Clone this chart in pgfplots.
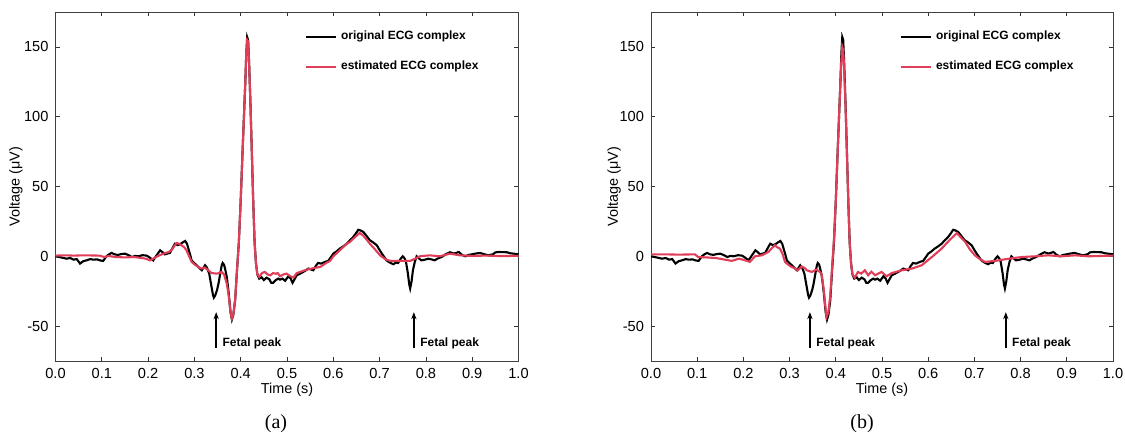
\documentclass[border=0pt]{standalone}
\usepackage{fontspec}
\setmainfont{Liberation Sans}
\newfontfamily\capfont{Liberation Serif}
\usepackage{pgfplots}
\usepackage{pgfplotstable}
\usetikzlibrary{arrows.meta}
\pgfplotsset{compat=1.18}
\definecolor{ecgred}{RGB}{224,62,88}

\pgfplotstableread{
t v
0.000 0
0.012 -0.8
0.024 -1.7
0.032 -1.2
0.039 -2.4
0.046 -2.0
0.053 -5.2
0.060 -3.5
0.067 -2.9
0.075 -2.0
0.082 -2.4
0.090 -2.2
0.097 -3.0
0.103 -3.3
0.110 0.0
0.116 1.5
0.121 2.4
0.128 1.4
0.135 1.0
0.142 1.6
0.150 1.9
0.158 0.8
0.165 -0.5
0.172 0.3
0.179 0.0
0.188 0.8
0.197 0.5
0.204 -1.0
0.211 -2.9
0.218 0.5
0.226 4.3
0.231 3.0
0.236 1.4
0.242 2.0
0.247 2.4
0.252 5.5
0.258 9.0
0.264 8.0
0.269 8.6
0.275 10.0
0.280 11.0
0.284 9.0
0.287 5.5
0.291 1.0
0.294 -2.9
0.300 -5.0
0.305 -6.4
0.311 -8.5
0.316 -10.0
0.320 -8.0
0.323 -6.4
0.327 -8.0
0.332 -12.4
0.336 -20.0
0.340 -27.5
0.342 -29.6
0.345 -28.0
0.349 -24.0
0.352 -19.6
0.356 -12.0
0.359 -6.5
0.361 -4.8
0.364 -6.0
0.367 -10.0
0.370 -14.8
0.374 -26.0
0.378 -40.0
0.381 -45.3
0.384 -42.0
0.388 -31.5
0.392 -10.0
0.396 10
0.400 40
0.404 75
0.407 100
0.410 125
0.412 145
0.414 157
0.416 155
0.418 140
0.421 110
0.424 75
0.427 40
0.430 10
0.433 -5
0.436 -13
0.440 -16
0.445 -15
0.450 -17
0.456 -15.3
0.462 -16.5
0.466 -19
0.470 -19
0.476 -17
0.481 -16
0.485 -16.7
0.490 -16
0.496 -17.5
0.503 -14.3
0.508 -16
0.512 -19
0.517 -16
0.521 -13.6
0.528 -12.5
0.535 -11.2
0.541 -10
0.546 -8.8
0.552 -9.5
0.557 -10
0.562 -7
0.567 -4.8
0.574 -5.2
0.582 -4
0.589 -3.3
0.594 -1
0.600 1.9
0.607 3.5
0.614 5.5
0.621 7
0.629 9
0.636 11.5
0.643 13.8
0.648 16
0.654 19
0.659 18.5
0.665 17.4
0.672 14.5
0.679 11.5
0.686 10
0.694 7.9
0.700 4.5
0.705 1.9
0.710 -0.5
0.715 -2.9
0.722 -4.5
0.730 -5.7
0.735 -4.5
0.740 -4.8
0.745 -2
0.750 0
0.754 -1.5
0.757 -4
0.761 -12
0.764 -20
0.766 -23
0.769 -18
0.772 -10
0.776 -4
0.780 0
0.785 -1.5
0.790 -2.9
0.797 -2.5
0.805 -1.7
0.812 -2.2
0.819 -2.9
0.826 -1.5
0.834 -0.5
0.843 1.5
0.852 2.9
0.860 2.0
0.866 2.5
0.871 3.1
0.878 1.0
0.885 0.0
0.892 1.0
0.899 1.4
0.908 2.0
0.917 2.4
0.926 1.5
0.935 0.7
0.945 1.5
0.950 2.8
0.957 3.1
0.966 3.0
0.975 2.9
0.982 2.2
0.989 1.9
0.995 1.7
1.000 1.4
}\blackdata

\pgfplotstableread{
t v
0.000 0.5
0.020 0.7
0.040 0.5
0.060 0.7
0.080 0.6
0.095 0.5
0.105 -0.5
0.115 0.2
0.130 -0.5
0.150 -0.8
0.170 -0.5
0.185 -1.2
0.195 -1.7
0.204 -2.9
0.212 -1.5
0.220 0.0
0.233 1.9
0.245 3.1
0.252 5.0
0.258 8.0
0.262 9.5
0.267 9.0
0.272 7.9
0.278 6.5
0.283 4.3
0.288 0.5
0.294 -4.0
0.301 -6.0
0.308 -7.6
0.315 -8.8
0.322 -8.0
0.328 -9.5
0.337 -12
0.343 -12.2
0.348 -12.4
0.354 -12
0.359 -11.2
0.364 -13
0.370 -19.6
0.374 -28
0.378 -40
0.381 -44.6
0.384 -42
0.388 -31
0.392 -10
0.396 10
0.400 40
0.404 75
0.407 100
0.410 125
0.412 145
0.414 155
0.416 154
0.418 140
0.421 110
0.424 75
0.427 40
0.430 10
0.433 -5
0.436 -13
0.440 -14.8
0.446 -12
0.452 -11.2
0.458 -13
0.464 -13.6
0.470 -12
0.476 -12.5
0.480 -12
0.485 -14.3
0.492 -13
0.499 -12.4
0.506 -14
0.514 -15.3
0.521 -12
0.530 -11
0.543 -9.5
0.557 -8.5
0.572 -7.6
0.586 -4.5
0.593 -3.3
0.600 0
0.614 4.3
0.629 9
0.636 10.3
0.646 13.5
0.657 16.7
0.664 15
0.672 12
0.679 9
0.690 5
0.701 0.7
0.712 -2
0.723 -3.3
0.745 -3.3
0.766 -3.3
0.778 -1.5
0.787 0
0.808 0.7
0.830 0
0.852 1.9
0.873 0.7
0.900 0.3
0.930 0.5
0.960 0.2
1.000 0.3
}\redadata

\pgfplotstableread{
t v
0.000 1.4
0.030 1.4
0.060 1.2
0.095 1.4
0.102 -0.5
0.120 -0.8
0.140 -1.2
0.160 -2.4
0.175 -3.3
0.190 -1.7
0.200 -2.5
0.214 -4.0
0.225 0
0.240 0.7
0.254 3.1
0.262 6
0.268 7.9
0.273 6.5
0.279 5.5
0.285 1.5
0.290 -4
0.297 -6
0.304 -7.6
0.311 -8.5
0.318 -10
0.326 -7.2
0.333 -8.5
0.337 -10
0.348 -11.2
0.358 -9.5
0.365 -11
0.369 -12.4
0.374 -24
0.378 -38
0.380 -43.4
0.384 -40
0.388 -28
0.392 -8
0.396 12
0.400 40
0.404 75
0.407 100
0.410 125
0.412 140
0.414 150
0.416 148
0.418 135
0.421 108
0.424 75
0.427 40
0.430 10
0.433 -5
0.436 -13
0.441 -15.3
0.448 -11.2
0.455 -12.4
0.463 -10
0.470 -13.6
0.477 -11
0.485 -13.6
0.499 -11.2
0.510 -14.3
0.521 -12
0.543 -10
0.565 -8.8
0.586 -6.4
0.608 -0.5
0.629 5.5
0.646 11.5
0.662 16.7
0.672 13
0.680 10.3
0.690 5
0.701 0.7
0.712 -2
0.723 -4
0.745 -3.3
0.774 -1.7
0.803 -0.5
0.832 0
0.860 0.7
0.889 0
0.918 0.7
0.947 0
1.000 0.5
}\redbdata

\pgfplotsset{
  ecgaxis/.style={
    anchor=south west,
    width=231.5pt, height=174.5pt, scale only axis,
    xmin=0, xmax=1, ymin=-75, ymax=175,
    xtick={0,0.1,0.2,0.3,0.4,0.5,0.6,0.7,0.8,0.9,1},
    ytick={-50,0,50,100,150},
    xticklabel style={/pgf/number format/.cd,fixed,fixed zerofill,precision=1},
    /pgf/number format/assume math mode=true,
    tick align=inside, major tick length=2.2pt,
    tick style={black!80, line width=0.4pt},
    axis line style={black!75, line width=0.5pt},
    tick label style={font=\fontsize{7.3}{8}\selectfont},
    label style={font=\fontsize{7.2}{8}\selectfont},
    xlabel={Time (s)},
    ylabel={Voltage (μV)},
    xlabel style={at={(axis description cs:0.5,0)}, anchor=center, yshift=-14.5pt},
    legend cell align=left,
    legend image code/.code={\draw[#1] (0pt,0pt) -- (15pt,0pt);},
    legend style={at={(axis cs:0.538,146.5)}, anchor=west, draw=none, fill=none,
      font=\fontsize{6}{7}\selectfont\bfseries, row sep=5pt, inner sep=0pt},
  },
  blk/.style={black, line width=1.05pt},
  rd/.style={ecgred, line width=1.05pt},
}

\begin{document}
\begin{tikzpicture}
\path[use as bounding box] (0,0) rectangle (562.5pt,218pt);
\begin{axis}[ecgaxis, at={(27.75pt,37.5pt)},
  ylabel style={at={(axis description cs:-0.0853,0.5)}, anchor=center}]
\addplot[blk] table[x=t,y=v] {\blackdata};
\addlegendentry{original ECG complex}
\addplot[rd] table[x=t,y=v] {\redadata};
\addlegendentry{estimated ECG complex}
\draw[-{Stealth[length=3.5pt,width=2.6pt]}, line width=0.7pt] (axis cs:0.347,-66) -- (axis cs:0.347,-40);
\draw[-{Stealth[length=3.5pt,width=2.6pt]}, line width=0.7pt] (axis cs:0.774,-66) -- (axis cs:0.774,-40);
\node[anchor=west, inner sep=0pt, font=\fontsize{6}{7}\selectfont\bfseries] at (axis cs:0.360,-62.3) {Fetal peak};
\node[anchor=west, inner sep=0pt, font=\fontsize{6}{7}\selectfont\bfseries] at (axis cs:0.787,-62.3) {Fetal peak};
\end{axis}
\begin{axis}[ecgaxis, at={(325.5pt,37.5pt)}, width=231pt,
  ylabel style={at={(axis description cs:-0.080,0.5)}, anchor=center}]
\addplot[blk] table[x=t,y=v] {\blackdata};
\addlegendentry{original ECG complex}
\addplot[rd] table[x=t,y=v] {\redbdata};
\addlegendentry{estimated ECG complex}
\draw[-{Stealth[length=3.5pt,width=2.6pt]}, line width=0.7pt] (axis cs:0.344,-66) -- (axis cs:0.344,-40);
\draw[-{Stealth[length=3.5pt,width=2.6pt]}, line width=0.7pt] (axis cs:0.768,-66) -- (axis cs:0.768,-40);
\node[anchor=west, inner sep=0pt, font=\fontsize{6}{7}\selectfont\bfseries] at (axis cs:0.357,-62.3) {Fetal peak};
\node[anchor=west, inner sep=0pt, font=\fontsize{6}{7}\selectfont\bfseries] at (axis cs:0.781,-62.3) {Fetal peak};
\end{axis}
\node[font=\capfont\fontsize{10}{12}\selectfont] at (138pt,6pt) {(a)};
\node[font=\capfont\fontsize{10}{12}\selectfont] at (431pt,6pt) {(b)};
\end{tikzpicture}
\end{document}
